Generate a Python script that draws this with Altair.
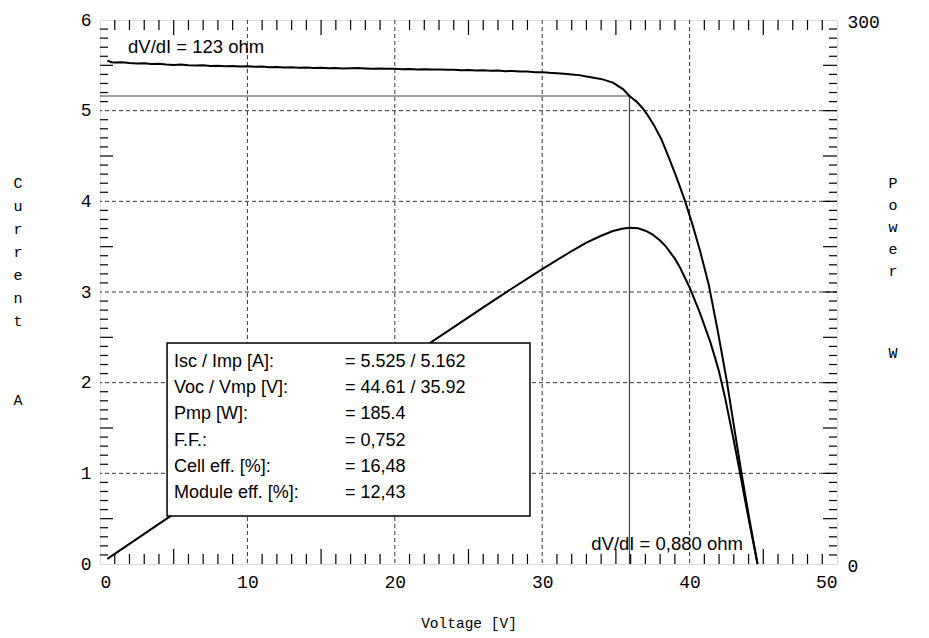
import altair as alt
import pandas as pd

# ---------------- data ----------------
iv_voltage = [0.5, 0.8, 1.0, 1.5, 2.0, 2.5, 3.0, 3.5, 4.0, 4.5, 5.0, 5.5, 6.0, 6.5, 7.0,
              7.5, 8.0, 8.5, 9.0, 9.5, 10.0, 10.5, 11.0, 11.5, 12.0, 12.5, 13.0, 13.5,
              14.0, 14.5, 15.0, 15.5, 16.0, 16.5, 17.0, 17.5, 18.0, 18.5, 19.0, 19.5,
              20.0, 20.5, 21.0, 21.5, 22.0, 22.5, 23.0, 23.5, 24.0, 24.5, 25.0, 25.5,
              26.0, 26.5, 27.0, 27.5, 28.0, 28.5, 29.0, 29.5, 30.0, 30.5, 31.0, 31.5,
              32.0, 32.5, 33.0, 33.5, 34.1, 34.8, 35.5, 35.92, 36.4, 36.8, 37.2, 37.6,
              38.1, 38.6, 39.1, 39.7, 40.2, 40.7, 41.3, 41.9, 42.5, 43.0, 43.5, 44.05,
              44.61]
iv_current = [5.55, 5.535, 5.53, 5.535, 5.525, 5.52, 5.523, 5.515, 5.518, 5.51, 5.505,
              5.51, 5.502, 5.498, 5.50, 5.493, 5.495, 5.49, 5.492, 5.487, 5.49, 5.484,
              5.486, 5.48, 5.482, 5.476, 5.479, 5.474, 5.476, 5.47, 5.472, 5.468, 5.47,
              5.466, 5.468, 5.471, 5.466, 5.462, 5.465, 5.461, 5.463, 5.458, 5.46,
              5.455, 5.457, 5.453, 5.455, 5.45, 5.452, 5.447, 5.449, 5.444, 5.446,
              5.44, 5.442, 5.436, 5.437, 5.431, 5.432, 5.425, 5.424, 5.418, 5.414,
              5.408, 5.40, 5.392, 5.378, 5.362, 5.345, 5.31, 5.235, 5.162, 5.10, 5.03,
              4.94, 4.835, 4.68, 4.48, 4.27, 4.00, 3.74, 3.46, 3.08, 2.58, 2.04, 1.53,
              1.02, 0.50, 0.0]

p_voltage = [0.5, 4.0, 8.0, 12.0, 16.0, 20.0, 22.0, 24.0, 26.0, 28.0, 30.0, 32.0, 33.0,
             34.0, 34.8, 35.4, 35.92, 36.5, 37.0, 37.5, 38.0, 38.4, 39.0, 39.35, 40.0,
             40.7, 41.4, 41.7, 42.0, 42.4, 43.0, 43.4, 44.0, 44.61]
p_power = [2.8, 22.1, 44.0, 65.8, 87.4, 109.0, 119.8, 130.6, 141.5, 152.2, 162.6, 172.6,
           177.2, 181.0, 183.6, 184.9, 185.4, 185.1, 183.8, 181.6, 178.4, 175.0, 168.4,
           163.5, 152.5, 138.5, 122.5, 114.5, 106.0, 92.0, 68.0, 51.0, 25.0, 0.0]

vmp = 35.92
imp = 5.162

grid_voltage = [10, 20, 30, 40]
grid_current = [1, 2, 3, 4, 5]
x_labels = [0, 10, 20, 30, 40, 50]
y_labels = [0, 1, 2, 3, 4, 5, 6]
p_labels = [0, 300]

box_labels = ["Isc / Imp [A]:", "Voc / Vmp [V]:", "Pmp [W]:", "F.F.:",
              "Cell eff. [%]:", "Module eff. [%]:"]
box_values = ["= 5.525 / 5.162", "= 44.61 / 35.92", "= 185.4", "= 0,752",
              "= 16,48", "= 12,43"]
box_extent = {"v0": 4.55, "v1": 29.17, "i0": 0.53, "i1": 2.437}

note_top = "dV/dI = 123 ohm"
note_bottom = "dV/dI = 0,880 ohm"

left_title_word = "Current"
left_title_unit = "A"
right_title_word = "Power"
right_title_unit = "W"

# ---------------- layout ----------------
W, H = 737, 544
MONO = "Liberation Mono"
SANS = "Liberation Sans"

xs = alt.Scale(domain=[0, 50], nice=False, zero=False)
ys = alt.Scale(domain=[0, 6], nice=False)
ps = alt.Scale(domain=[0, 300], nice=False)

iv_df = pd.DataFrame({"V": iv_voltage, "I": iv_current})
p_df = pd.DataFrame({"V": p_voltage, "P": p_power})

x_minor = [v for v in range(1, 50) if v % 5 != 0]
x_major = [v for v in range(5, 50, 5) if v % 10 != 0]
i_minor = [k / 10 for k in range(1, 60) if k % 5 != 0]
i_major = [k / 10 for k in range(5, 60, 10)]
p_minor = [k for k in range(5, 300, 5) if k % 25 != 0]
p_major = [k for k in range(25, 300, 25)]

dash = [4, 3]
gcol = "#333333"
TICK_FS = 18

# grid
vgrid = alt.Chart(pd.DataFrame({"V": grid_voltage})).mark_rule(
    color=gcol, strokeDash=dash, strokeWidth=1).encode(
    x=alt.X("V:Q", scale=xs,
            axis=alt.Axis(values=x_labels, ticks=False, domain=False, grid=False,
                          labelFont=MONO, labelFontSize=TICK_FS, labelPadding=9,
                          labelColor="black", title="Voltage [V]", titleFont=MONO,
                          titleFontSize=14.5, titleFontWeight="normal",
                          titlePadding=25, titleColor="black")))
hgrid = alt.Chart(pd.DataFrame({"I": grid_current})).mark_rule(
    color=gcol, strokeDash=dash, strokeWidth=1).encode(
    y=alt.Y("I:Q", scale=ys,
            axis=alt.Axis(values=y_labels, ticks=False, domain=False, grid=False,
                          labelFont=MONO, labelFontSize=TICK_FS, labelPadding=9,
                          labelColor="black", title=None)))

# MPP cross lines
mpp_h = alt.Chart(pd.DataFrame({"a": [0], "b": [vmp], "I": [imp]})).mark_rule(
    color="#444444", strokeWidth=1.2).encode(
    x=alt.X("a:Q", scale=xs), x2="b:Q", y=alt.Y("I:Q", scale=ys, axis=None))
mpp_v = alt.Chart(pd.DataFrame({"V": [vmp], "a": [0], "b": [imp]})).mark_rule(
    color="#444444", strokeWidth=1.2).encode(
    x=alt.X("V:Q", scale=xs), y=alt.Y("a:Q", scale=ys, axis=None), y2="b:Q")

iv_line = alt.Chart(iv_df).mark_line(color="black", strokeWidth=2).encode(
    x=alt.X("V:Q", scale=xs), y=alt.Y("I:Q", scale=ys, axis=None), order="V:Q")

p_line = alt.Chart(p_df).mark_line(color="black", strokeWidth=2).encode(
    x=alt.X("V:Q", scale=xs),
    y=alt.Y("P:Q", scale=ps,
            axis=alt.Axis(orient="right", values=p_labels, ticks=False, domain=False,
                          grid=False, labelFont=MONO, labelFontSize=TICK_FS,
                          labelPadding=10, labelOffset=2, labelColor="black",
                          title=None)),
    order="V:Q")

box = alt.Chart(pd.DataFrame([box_extent])).mark_rect(
    fill="white", stroke="black", strokeWidth=1.5).encode(
    x=alt.X("v0:Q", scale=xs), x2="v1:Q",
    y=alt.Y("i0:Q", scale=ys, axis=None), y2="i1:Q")

rows = pd.DataFrame({"label": box_labels, "value": box_values,
                     "row": list(range(len(box_labels)))})
box_lab = alt.Chart(rows).mark_text(
    font=SANS, fontSize=18, align="left", baseline="middle", color="black").encode(
    x=alt.value(74), y=alt.Y("ypx:Q", scale=None), text="label:N"
).transform_calculate(ypx="342 + 26.2*datum.row")
box_val = alt.Chart(rows).mark_text(
    font=SANS, fontSize=18, align="left", baseline="middle", color="black").encode(
    x=alt.value(245), y=alt.Y("ypx:Q", scale=None), text="value:N"
).transform_calculate(ypx="342 + 26.2*datum.row")

note1 = alt.Chart(pd.DataFrame({"t": [note_top]})).mark_text(
    font=SANS, fontSize=18.5, align="left", baseline="middle", color="black").encode(
    x=alt.value(28), y=alt.value(27), text="t:N")
note2 = alt.Chart(pd.DataFrame({"t": [note_bottom]})).mark_text(
    font=SANS, fontSize=18.5, align="right", baseline="middle", color="black").encode(
    x=alt.value(643), y=alt.value(524), text="t:N")

# inside ticks
def xticks(vals, y0, y1):
    return alt.Chart(pd.DataFrame({"V": vals})).mark_rule(
        color="black", strokeWidth=1.2).encode(
        x=alt.X("V:Q", scale=xs), y=alt.value(y0), y2=alt.value(y1))

def yticks(vals, scale, field, x0, x1):
    return alt.Chart(pd.DataFrame({field: vals})).mark_rule(
        color="black", strokeWidth=1.2).encode(
        y=alt.Y(f"{field}:Q", scale=scale, axis=None), x=alt.value(x0), x2=alt.value(x1))

ticks = [
    xticks(x_minor, H, H - 10), xticks(x_major, H, H - 15),
    xticks(x_minor, 0, 10), xticks(x_major, 0, 15),
    yticks(i_minor, ys, "I", 0, 8), yticks(i_major, ys, "I", 0, 13),
    yticks(p_minor, ps, "P", W, W - 8), yticks(p_major, ps, "P", W, W - 14),
]

def stacked(word, x, y, lh):
    return alt.Chart(pd.DataFrame({"t": ["\n".join(word)]})).mark_text(
        font=MONO, fontSize=15, align="center", baseline="middle", lineBreak="\n",
        lineHeight=lh, color="black").encode(
        x=alt.value(x), y=alt.value(y), text="t:N")

def single(ch, x, y):
    return alt.Chart(pd.DataFrame({"t": [ch]})).mark_text(
        font=MONO, fontSize=15, align="center", baseline="middle",
        color="black").encode(x=alt.value(x), y=alt.value(y), text="t:N")

left_title = stacked(left_title_word, -82, 163, 23)
left_unit = single(left_title_unit, -82, 380)
right_title = stacked(right_title_word, 793, 163, 22)
right_unit = single(right_title_unit, 793, 333)

chart = alt.layer(
    vgrid, hgrid, mpp_h, mpp_v, p_line, box, iv_line, box_lab, box_val,
    note1, note2, *ticks, left_title, left_unit, right_title, right_unit
).resolve_scale(y="independent").properties(
    width=W, height=H,
    autosize=alt.AutoSizeParams(type="none"),
    padding={"left": 92, "top": 12, "right": 80, "bottom": 68},
).configure_view(stroke="black", strokeWidth=1.5).configure(background="white")

chart.save("out.html", embed_options={"renderer": "svg", "actions": False})
